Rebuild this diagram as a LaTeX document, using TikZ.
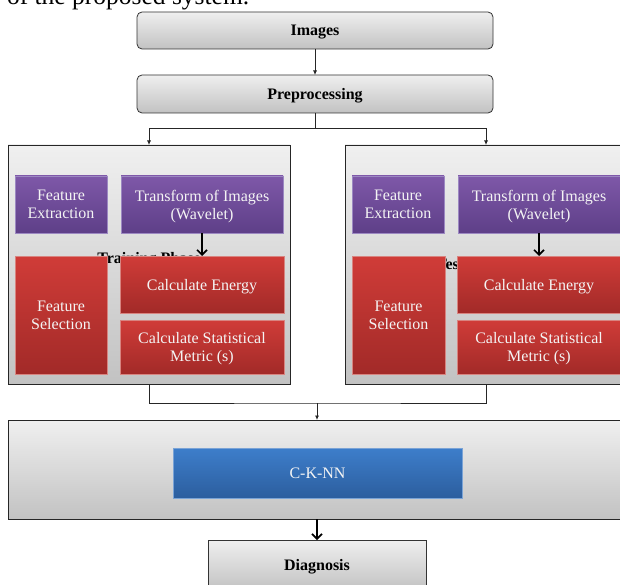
\documentclass[tikz,border=0pt]{standalone}
\usepackage{fontspec}
\setmainfont{Liberation Serif}
\usetikzlibrary{arrows.meta}
\definecolor{pTop}{HTML}{7E58A8}
\definecolor{pBot}{HTML}{5E3F88}
\definecolor{pEdge}{HTML}{9C88C2}
\definecolor{rTop}{HTML}{D03C38}
\definecolor{rBot}{HTML}{A22A28}
\definecolor{rEdge}{HTML}{D88480}
\definecolor{bTop}{HTML}{3D7ECB}
\definecolor{bBot}{HTML}{2C5E9E}
\definecolor{bEdge}{HTML}{7AA3D6}
\definecolor{gTop}{HTML}{EFEFEF}
\definecolor{gBot}{HTML}{C2C2C2}
\definecolor{txtW}{HTML}{F4F4F4}
\begin{document}
\begin{tikzpicture}[x=1pt,y=-1pt,
  every node/.style={inner sep=0pt,outer sep=0pt,font=\fontsize{16}{18}\selectfont,align=center},
  base/.style={anchor=north west,text depth=0pt},
  titlebox/.style={base,rounded corners=5pt,draw=black!80,line width=0.8pt,top color=gTop,bottom color=gBot},
  panel/.style={base,draw=black!85,line width=0.9pt,top color=gTop!95!white,bottom color=gBot},
  purplebox/.style={base,draw=pEdge,line width=0.6pt,top color=pTop,bottom color=pBot,text=txtW},
  redbox/.style={base,draw=rEdge,line width=0.6pt,top color=rTop,bottom color=rBot,text=txtW},
  bluebox/.style={base,draw=bEdge,line width=0.6pt,top color=bTop,bottom color=bBot,text=txtW},
  thin arrow/.style={draw=black!85,line width=0.8pt,-{Latex[length=4.5pt,width=4pt]}},
  thin line/.style={draw=black!85,line width=0.8pt},
  thick arrow/.style={draw=black,line width=1.8pt,-{Straight Barb[length=5pt,width=10pt,line width=1.6pt]}}
]
\useasboundingbox (0,0) rectangle (620,585);
\fill[white] (0,0) rectangle (620,585);

% cropped caption line above the figure
\node[anchor=base west,font=\fontsize{25.5}{28}\selectfont] (cap) at (7,4.5) {of the proposed system.};

% top boxes
\node[titlebox,minimum width=356pt,minimum height=37pt] (img) at (137,12) {\bfseries Images};
\node[titlebox,minimum width=356pt,minimum height=38pt] (pre) at (137,75) {\bfseries Preprocessing};

% phase panels
\node[panel,minimum width=282pt,minimum height=239pt] (L) at (8,145) {};
\node[panel,minimum width=282pt,minimum height=239pt] (R) at (345,145) {};

% phase labels (partly hidden behind the red boxes)
\node[anchor=base,font=\bfseries\fontsize{16}{18}\selectfont] (trainlab) at (149,263) {Training Phase};
\node[anchor=base,font=\bfseries\fontsize{16}{18}\selectfont] (testlab) at (483,269) {Testing Phase};

% left panel content
\node[purplebox,minimum width=92pt,minimum height=57pt] (fe1) at (15,176) {Feature\\Extraction};
\node[purplebox,minimum width=162pt,minimum height=57pt] (tr1) at (121,176) {Transform of Images\\(Wavelet)};
\node[redbox,minimum width=92pt,minimum height=118pt] (fs1) at (15,256) {Feature\\Selection};
\node[redbox,minimum width=164pt,minimum height=57pt] (ce1) at (120,256) {Calculate Energy};
\node[redbox,minimum width=164pt,minimum height=54pt] (cs1) at (120,320) {Calculate Statistical\\Metric (s)};

% right panel content
\node[purplebox,minimum width=92pt,minimum height=57pt] (fe2) at (352,176) {Feature\\Extraction};
\node[purplebox,minimum width=162pt,minimum height=57pt] (tr2) at (458,176) {Transform of Images\\(Wavelet)};
\node[redbox,minimum width=93pt,minimum height=118pt] (fs2) at (352,256) {Feature\\Selection};
\node[redbox,minimum width=164pt,minimum height=57pt] (ce2) at (457,256) {Calculate Energy};
\node[redbox,minimum width=164pt,minimum height=54pt] (cs2) at (457,320) {Calculate Statistical\\Metric (s)};

% classifier
\node[panel,minimum width=619pt,minimum height=99pt] (B) at (8,420) {};
\node[bluebox,minimum width=289pt,minimum height=50pt] (knn) at (173,448) {C-K-NN};
\node[titlebox,rounded corners=0pt,minimum width=218pt,minimum height=50pt] (diag) at (208,540) {\bfseries Diagnosis};

% connectors
\coordinate (j1) at (315,128);
\coordinate (j2) at (317,403);
\draw[thin arrow] (img.south) -- (pre.south |- img.south) -- (pre.north);
\draw[thin line] (pre.south) -- (j1);
\draw[thin arrow] (j1) -| (L.north);
\draw[thin arrow] (j1) -| (R.north);
\draw[thin line] (L.south) |- (j2) -| (R.south);
\draw[thin arrow] (j2) -- (j2 |- B.north);
\draw[thick arrow] (tr1.south) -- (ce1.north);
\draw[thick arrow] (tr2.south) -- (ce2.north);
\draw[thick arrow] (B.south -| j2) -- (diag.north -| j2);
\end{tikzpicture}
\end{document}
